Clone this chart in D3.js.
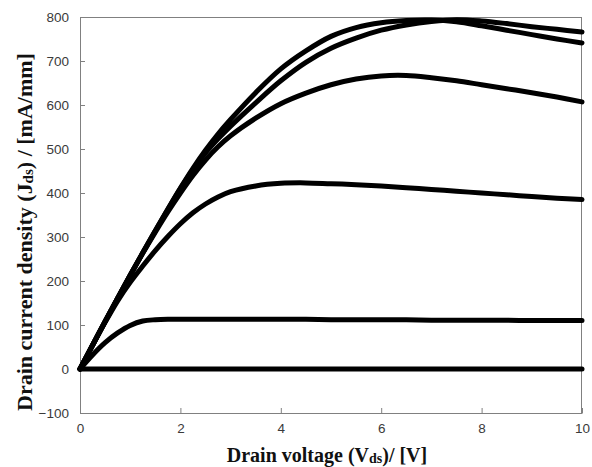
<!DOCTYPE html>
<html>
<head>
<meta charset="utf-8">
<script src="https://cdn.jsdelivr.net/npm/d3@7"></script>
<style>
  body { margin: 0; background: #fff; }
  .tick text { font-family: "Liberation Sans", Arial, sans-serif; font-size: 13.5px; fill: #3a3a3a; }
  .aText { font-family: "Liberation Serif", "Times New Roman", serif; font-weight: bold; font-size: 20px; fill: #111; }
</style>
</head>
<body>
<div id="chart"></div>
<script>
// drain voltage (V)
var vds = [0, 0.25, 0.5, 0.75, 1, 1.25, 1.5, 1.75, 2, 2.25, 2.5, 2.75, 3, 3.5, 4, 4.5, 5, 5.5, 6, 6.5, 7, 7.5, 8, 8.5, 9, 9.5, 10];

// drain current density (mA/mm), one array per gate bias
var jdsA = [0, 54, 108, 161, 213, 264, 314, 363, 411, 456, 497, 534, 567, 628, 682, 723, 756, 776, 787, 792, 793, 789, 780, 770, 760, 750, 741];
var jdsB = [0, 54, 108, 161, 213, 264, 314, 363, 410, 453, 491, 523, 552, 605, 655, 697, 729, 752, 770, 782, 790, 794, 791, 785, 778, 772, 766];
var jdsC = [0, 54, 108, 161, 213, 263, 311, 357, 400, 440, 475, 505, 530, 570, 603, 627, 646, 659, 666, 667, 662, 655, 646, 637, 628, 618, 607];
var jdsD = [0, 54, 106, 155, 197, 234, 269, 301, 330, 355, 375, 391, 403, 416, 422, 423, 421, 419, 416, 412, 408, 404, 400, 396, 392, 388, 385];
var jdsE = [0, 32, 60, 82, 99, 109, 112, 113, 113, 113, 113, 113, 113, 113, 113, 113, 112, 112, 112, 112, 111, 111, 111, 111, 110, 110, 110];
var jdsF = [0, 0, 0, 0, 0, 0, 0, 0, 0, 0, 0, 0, 0, 0, 0, 0, 0, 0, 0, 0, 0, 0, 0, 0, 0, 0, 0];

var xTicks = [0, 2, 4, 6, 8, 10];
var yTicks = [-100, 0, 100, 200, 300, 400, 500, 600, 700, 800];

var svgWidth = 592;
var svgHeight = 467;

var margin = {
    top: 17,
    right: 10,
    bottom: 54,
    left: 80
};

var width = svgWidth - margin.left - margin.right;
var height = svgHeight - margin.top - margin.bottom;

var svg = d3.select("#chart")
    .append("svg")
    .attr("width", svgWidth)
    .attr("height", svgHeight);

var chartGroup = svg.append("g")
    .attr("transform", `translate(${margin.left}, ${margin.top})`);

var xScale = d3.scaleLinear()
    .domain([0, 10])
    .range([0, width]);

var yScale = d3.scaleLinear()
    .domain([-100, 800])
    .range([height, 0]);

// matlab style: ticks point inward, grey box
var bottomAxis = d3.axisBottom(xScale).tickValues(xTicks).tickSizeInner(-5).tickSizeOuter(0).tickPadding(10);
var leftAxis = d3.axisLeft(yScale).tickValues(yTicks).tickSizeInner(-5).tickSizeOuter(0).tickPadding(11);

var xAxisG = chartGroup.append("g")
    .attr("transform", `translate(0, ${height})`)
    .call(bottomAxis);

var yAxisG = chartGroup.append("g")
    .call(leftAxis);

[xAxisG, yAxisG].forEach(function(g) {
    g.select(".domain").attr("stroke", "#808080");
    g.selectAll(".tick line").attr("stroke", "#808080");
});

// top and right edges of the box
chartGroup.append("line")
    .attr("x1", 0).attr("x2", width)
    .attr("y1", 0.5).attr("y2", 0.5)
    .attr("stroke", "#808080");
chartGroup.append("line")
    .attr("x1", width - 0.5).attr("x2", width - 0.5)
    .attr("y1", 0).attr("y2", height)
    .attr("stroke", "#808080");

var series = [jdsF, jdsE, jdsD, jdsC, jdsB, jdsA];

var line = d3.line()
    .x((d, i) => xScale(vds[i]))
    .y(d => yScale(d))
    .curve(d3.curveCatmullRom.alpha(0.5));

chartGroup.append("g")
    .selectAll("path")
    .data(series)
    .enter()
    .append("path")
    .attr("d", d => line(d))
    .attr("fill", "none")
    .attr("stroke", "#000")
    .attr("stroke-width", 5)
    .attr("stroke-linecap", "round");

// axis labels
var yLabel = svg.append("text")
    .attr("class", "aText")
    .style("font-size", "22px")
    .attr("transform", `translate(32, ${margin.top + height / 2 + 17}) rotate(-90)`)
    .attr("text-anchor", "middle");
yLabel.append("tspan").text("Drain current density (J");
yLabel.append("tspan").attr("font-size", "15px").attr("dy", 1).text("ds");
yLabel.append("tspan").attr("dy", -1).text(") / [mA/mm]");

var xLabel = svg.append("text")
    .attr("class", "aText")
    .attr("x", margin.left + width / 2 - 4)
    .attr("y", 462)
    .attr("text-anchor", "middle");
xLabel.append("tspan").text("Drain voltage (V");
xLabel.append("tspan").attr("font-size", "14px").attr("dy", 1).text("ds");
xLabel.append("tspan").attr("dy", -1).text(")/ [V]");
</script>
</body>
</html>
